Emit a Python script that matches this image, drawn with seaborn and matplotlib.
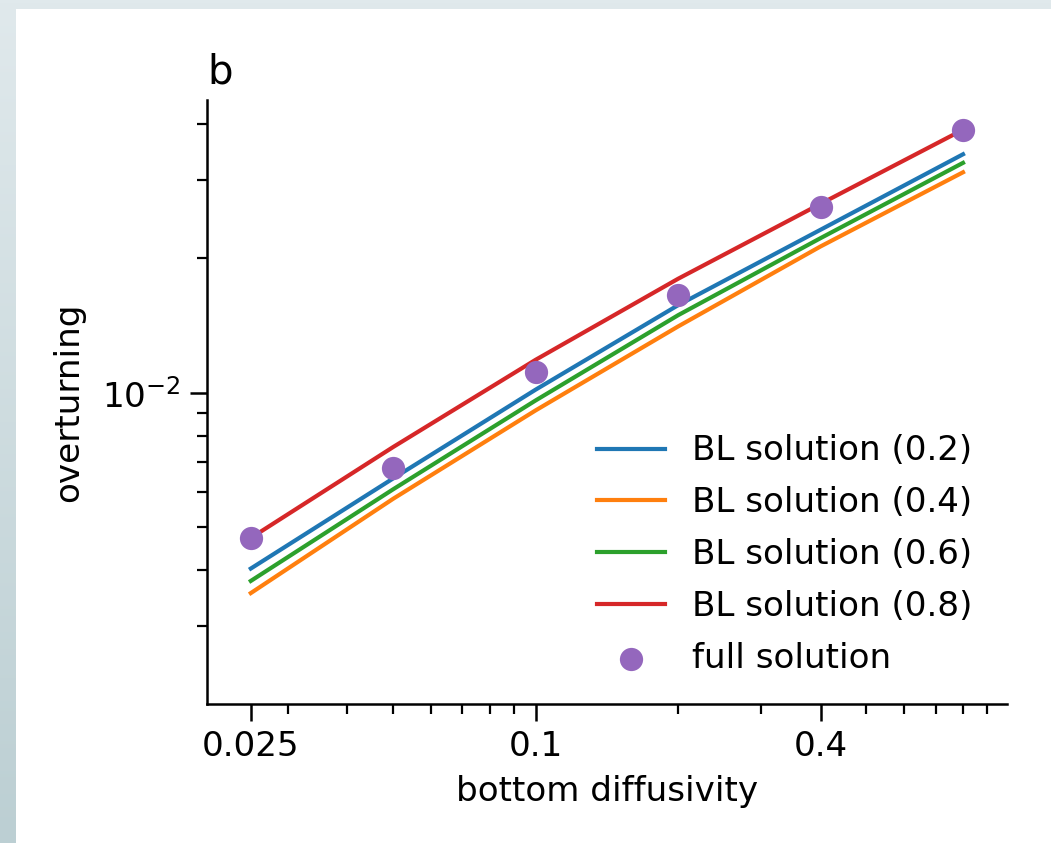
import numpy as np
import pandas as pd
import matplotlib
matplotlib.use('Agg')
import matplotlib.pyplot as plt
from matplotlib.colors import LinearSegmentedColormap
from matplotlib.patches import Rectangle
from matplotlib.ticker import NullFormatter
import seaborn as sns

# bottom diffusivity values
kappa = [0.025, 0.05, 0.1, 0.2, 0.4, 0.8]

# boundary layer solutions
bl_02 = [0.00404, 0.00643, 0.01016, 0.01570, 0.02316, 0.03417]
bl_04 = [0.00356, 0.00579, 0.00913, 0.01407, 0.02125, 0.03114]
bl_06 = [0.00379, 0.00608, 0.00961, 0.01491, 0.02218, 0.03269]
bl_08 = [0.00473, 0.00756, 0.01185, 0.01799, 0.02647, 0.03878]

# full solution
full = [0.00473, 0.00679, 0.01110, 0.01651, 0.02602, 0.03878]

series_names = ['BL solution (0.2)', 'BL solution (0.4)', 'BL solution (0.6)', 'BL solution (0.8)']
series_values = [bl_02, bl_04, bl_06, bl_08]
colors = ['C0', 'C1', 'C2', 'C3']

fs = 12.3

fig = plt.figure(figsize=(5.255, 4.215), dpi=200)

# light background frame around the white panel
bg = fig.add_axes([0, 0, 1, 1], zorder=-2)
cmap = LinearSegmentedColormap.from_list('bg', ['#bccfd3', '#e0e9ec'])
bg.imshow(np.linspace(0, 1, 256).reshape(-1, 1), aspect='auto', cmap=cmap,
          extent=[0, 1, 0, 1], origin='lower')
bg.axis('off')
fig.add_artist(Rectangle((16 / 1051, 0), 1, (843 - 9) / 843, transform=fig.transFigure,
                         facecolor='white', edgecolor='none', zorder=-1))

ax = fig.add_axes([207 / 1051, 139 / 843, 800 / 1051, 604 / 843])
ax.patch.set_alpha(0)

for name, vals, c in zip(series_names, series_values, colors):
    sns.lineplot(x=kappa, y=vals, color=c, linewidth=1.5, label=name, ax=ax)

sns.scatterplot(x=kappa, y=full, color='C4', s=70, linewidth=0, label='full solution',
                zorder=3, ax=ax)

ax.set_xscale('log')
ax.set_yscale('log')
ax.set_xlim(0.0202, 0.991)
ax.set_ylim(0.00201, 0.0452)
ax.set_xticks([0.025, 0.1, 0.4])
ax.set_xticklabels(['0.025', '0.1', '0.4'])
ax.xaxis.set_minor_formatter(NullFormatter())
ax.yaxis.set_minor_formatter(NullFormatter())
ax.tick_params(which='major', length=6, width=0.9, labelsize=fs)
ax.tick_params(which='minor', length=3.5, width=0.8)
for s in ax.spines.values():
    s.set_linewidth(0.9)

ax.set_xlabel('bottom diffusivity', fontsize=fs)
ax.set_ylabel('overturning', fontsize=fs, labelpad=6)
ax.set_title('b', loc='left', fontsize=14.5)
sns.despine(ax=ax)

ax.legend(loc='lower right', bbox_to_anchor=(1, -0.008), frameon=False, fontsize=fs,
          labelspacing=0.55, borderaxespad=0.6)

plt.savefig('out.png', dpi=200)
